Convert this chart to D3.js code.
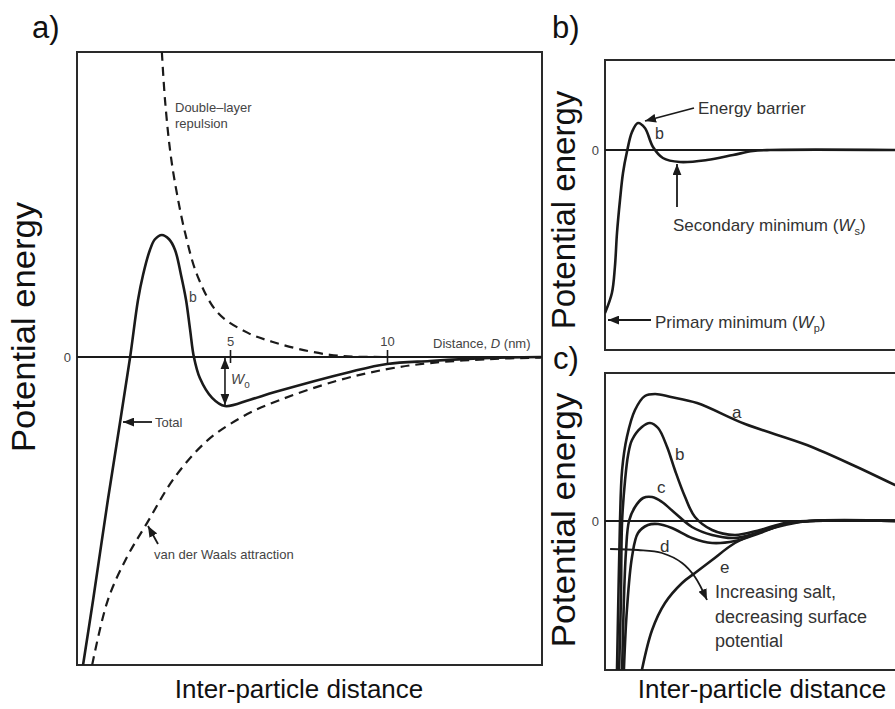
<!DOCTYPE html>
<html>
<head>
<meta charset="utf-8">
<script src="https://cdnjs.cloudflare.com/ajax/libs/d3/7.8.5/d3.min.js"></script>
<style>
body{margin:0;background:#fff;}
svg text{font-family:"Liberation Sans",Arial,Helvetica,sans-serif;}
</style>
</head>
<body>
<div id="chart"></div>
<script>
// panel a : distance D (nm) vs potential energy (arbitrary units)
var totalA = [[0.32,-10.1],[0.64,-7.97],[1.11,-4.69],[1.50,-2.13],[1.82,0],[2.07,1.87],[2.23,2.69],[2.45,3.51],
    [2.61,3.86],[2.83,4.0],[3.06,3.86],[3.25,3.51],[3.44,2.69],[3.60,1.87],[3.73,0.89],[3.85,0],[4.04,-0.69],
    [4.43,-1.34],[4.84,-1.61],[5.64,-1.4],[6.43,-1.15],[8.82,-0.49],[10.0,-0.23],[11.37,-0.13],[13.28,-0.03],[14.9,0]];
var repulsionA = [[2.83,10.0],[2.93,8.43],[3.09,6.79],[3.25,5.70],[3.57,4.07],[3.98,2.62],[4.62,1.44],[5.57,0.79],
    [6.34,0.5],[7.2,0.26],[8.18,0.07],[9.0,0.01],[10,0]];
var attractionA = [[0.61,-10.1],[1.11,-7.97],[1.72,-6.56],[2.36,-5.44],[3.25,-3.93],[4.30,-2.72],[5.38,-1.97],
    [6.34,-1.51],[8.41,-0.78],[10.0,-0.4],[11.37,-0.2],[13.28,-0.07],[14.9,-0.02]];
var ticksA = [5, 10];

// panel b : one curve with energy barrier, primary and secondary minimum
var curveB = [[0,-8.15],[0.23,-7.15],[0.33,-5.85],[0.4,-4.15],[0.5,-2.5],[0.6,-1.15],[0.73,-0.1],[0.9,0.9],
    [1.1,1.35],[1.33,1.1],[1.6,0.15],[1.93,-0.4],[2.5,-0.6],[3.4,-0.5],[4.27,-0.25],[4.93,-0.05],[5.5,0],[10,0]];

// panel c : curves a..e for increasing salt
var curveCa = [[0.4,-7.45],[0.45,-3.5],[0.5,0],[0.57,2.55],[0.73,4.2],[1.0,5.55],[1.33,6.25],[1.67,6.35],
    [2.2,6.2],[3.07,5.9],[4.67,4.85],[6.73,3.8],[8.4,2.7],[9.67,1.8],[10,1.6]];
var curveCb = [[0.47,-7.45],[0.53,-3.95],[0.57,0],[0.67,2.05],[0.77,3.3],[0.9,4.05],[1.23,4.7],[1.5,4.9],
    [1.77,4.65],[2.07,3.7],[2.33,2.55],[2.67,1.2],[3.0,0.2],[3.57,-0.45],[4.33,-0.7],[5.17,-0.45],[6.0,-0.1],[6.83,0],[10,0]];
var curveCc = [[0.57,-7.45],[0.63,-3.95],[0.7,-1.5],[0.8,0],[1.0,0.7],[1.27,1.15],[1.57,1.2],[1.9,0.95],
    [2.33,0.4],[2.9,-0.3],[3.57,-0.7],[4.33,-0.85],[5.17,-0.55],[6.0,-0.15],[6.83,0],[10,0]];
var curveCd = [[0.63,-7.45],[0.73,-4.45],[0.9,-1.8],[1.1,-0.6],[1.43,-0.2],[1.77,-0.15],[2.23,-0.35],
    [2.9,-0.85],[3.57,-1.1],[4.33,-1.0],[5.17,-0.6],[6.0,-0.15],[6.83,0],[10,0]];
var curveCe = [[1.23,-7.45],[1.57,-5.45],[2.0,-4.1],[2.57,-3.1],[3.0,-2.6],[3.57,-1.95],[4.33,-1.1],
    [5.17,-0.55],[6.0,-0.2],[6.83,0],[10,0]];
var namesC = ["a", "b", "c", "d", "e"];
var saltArrow = [[0.17,-1.4],[1.1,-1.45],[1.9,-1.6],[2.57,-2.1],[3.0,-2.8],[3.4,-3.95]];

var W = 895, H = 709;
var ink = "#1a1a1a", grey = "#444";

var svg = d3.select("#chart").append("svg")
    .attr("width", W)
    .attr("height", H)
    .style("background", "#fff");

var defs = svg.append("defs");
defs.append("marker")
    .attr("id", "arr")
    .attr("markerUnits", "userSpaceOnUse")
    .attr("viewBox", "0 0 10 8")
    .attr("markerWidth", 11).attr("markerHeight", 9)
    .attr("refX", 10).attr("refY", 4)
    .attr("orient", "auto-start-reverse")
    .append("path").attr("d", "M0,0 L10,4 L0,8 Z").attr("fill", ink);

function clip(id, x, y, w, h) {
    defs.append("clipPath").attr("id", id)
        .append("rect").attr("x", x).attr("y", y).attr("width", w).attr("height", h);
    return "url(#" + id + ")";
}

function frame(x, y, w, h) {
    svg.append("rect").attr("x", x).attr("y", y).attr("width", w).attr("height", h)
        .attr("fill", "none").attr("stroke", "#2a2a2a").attr("stroke-width", 2);
}

function zeroAxis(xs, ys, left, right) {
    svg.append("line").attr("x1", left).attr("x2", right)
        .attr("y1", ys(0)).attr("y2", ys(0))
        .attr("stroke", ink).attr("stroke-width", 1.8);
    var g = svg.append("g").attr("transform", "translate(" + left + ",0)")
        .call(d3.axisLeft(ys).tickValues([0]).tickSize(0).tickPadding(6));
    g.select(".domain").remove();
    g.selectAll("text").attr("font-size", 13).attr("fill", grey);
}

function arrow(x1, y1, x2, y2) {
    svg.append("line").attr("x1", x1).attr("y1", y1).attr("x2", x2).attr("y2", y2)
        .attr("stroke", ink).attr("stroke-width", 1.8).attr("marker-end", "url(#arr)");
}

function label(x, y, txt, size, col) {
    return svg.append("text").attr("x", x).attr("y", y)
        .attr("font-size", size).attr("fill", col || grey).text(txt);
}

function yTitle(x, y, size, len) {
    var t = svg.append("text")
        .attr("transform", "translate(" + x + "," + y + ") rotate(-90)")
        .attr("text-anchor", "middle")
        .attr("font-size", size)
        .attr("fill", "#111")
        .text("Potential energy");
    if (len) t.attr("textLength", len).attr("lengthAdjust", "spacingAndGlyphs");
}

function smooth(xs, ys) {
    return d3.line().x(function(d){ return xs(d[0]); }).y(function(d){ return ys(d[1]); })
        .curve(d3.curveCatmullRom.alpha(0.5));
}

// ---------- panel a ----------
var xA = d3.scaleLinear().domain([0, 15]).range([73, 544]);
var yA = d3.scaleLinear().domain([-10.1, 10]).range([665, 52]);
var clipA = clip("clipA", 77, 52, 465, 613);
var lineA = smooth(xA, yA);

frame(77, 52, 465, 613);
zeroAxis(xA, yA, 77, 542);

var axA = svg.append("g").attr("transform", "translate(0," + yA(0) + ")")
    .call(d3.axisTop(xA).tickValues(ticksA).tickSize(7).tickPadding(4));
axA.select(".domain").remove();
axA.selectAll("line").attr("y1", 6).attr("stroke", ink).attr("stroke-width", 1.6);
axA.selectAll("text").attr("font-size", 13).attr("fill", grey);

svg.append("path").datum(repulsionA).attr("d", lineA).attr("clip-path", clipA)
    .attr("fill", "none").attr("stroke", ink).attr("stroke-width", 2.2).attr("stroke-dasharray", "9,6");
svg.append("path").datum(attractionA).attr("d", lineA).attr("clip-path", clipA)
    .attr("fill", "none").attr("stroke", ink).attr("stroke-width", 2.2).attr("stroke-dasharray", "9,6");
svg.append("path").datum(totalA).attr("d", lineA).attr("clip-path", clipA)
    .attr("fill", "none").attr("stroke", ink).attr("stroke-width", 2.6);

// W0 depth arrow at the secondary minimum of the total curve
var wMin = d3.least(totalA.filter(function(d){ return d[0] > 4; }), function(d){ return d[1]; });
svg.append("line").attr("x1", xA(wMin[0])).attr("x2", xA(wMin[0]))
    .attr("y1", yA(0) + 1).attr("y2", yA(wMin[1]) - 1)
    .attr("stroke", ink).attr("stroke-width", 1.6)
    .attr("marker-start", "url(#arr)").attr("marker-end", "url(#arr)");
var w0 = label(xA(wMin[0]) + 6, 384, "", 14, grey);
w0.append("tspan").attr("font-style", "italic").text("W");
w0.append("tspan").attr("font-size", 10).attr("dy", 4).text("o");

label(175, 112, "Double\u2013layer", 13);
label(175, 128, "repulsion", 13);
label(189, 302, "b", 14);
var dl = label(433, 348, "Distance, ", 13);
dl.append("tspan").attr("font-style", "italic").text("D");
dl.append("tspan").text(" (nm)");
label(155, 427, "Total", 13);
arrow(152, 422, 123, 422);
label(154, 559, "van der Waals attraction", 13);
arrow(158, 544, 148, 526);

// ---------- panel b ----------
var xB = d3.scaleLinear().domain([0, 10]).range([605, 905]);
var yB = d3.scaleLinear().domain([-10, 4.5]).range([350, 60]);
var clipB = clip("clipB", 605, 60, 300, 290);

frame(605, 60, 310, 290);
zeroAxis(xB, yB, 605, 905);
svg.append("path").datum(curveB).attr("d", smooth(xB, yB)).attr("clip-path", clipB)
    .attr("fill", "none").attr("stroke", ink).attr("stroke-width", 2.6);

label(698, 114, "Energy barrier", 17, "#333");
arrow(694, 108, 645, 121);
label(655, 139, "b", 16, "#333");
var sm = label(673, 231, "Secondary minimum (", 17, "#333");
sm.append("tspan").attr("font-style", "italic").text("W");
sm.append("tspan").attr("font-size", 11).attr("dy", 4).text("s");
sm.append("tspan").attr("dy", -4).text(")");
arrow(677, 207, 677, 164);
var pm = label(655, 328, "Primary minimum (", 17, "#333");
pm.append("tspan").attr("font-style", "italic").text("W");
pm.append("tspan").attr("font-size", 11).attr("dy", 4).text("p");
pm.append("tspan").attr("dy", -4).text(")");
arrow(651, 320, 608, 320);

// ---------- panel c ----------
var xC = d3.scaleLinear().domain([0, 10]).range([605, 905]);
var yC = d3.scaleLinear().domain([-7.45, 7.4]).range([670, 373]);
var clipC = clip("clipC", 605, 373, 300, 297);
var lineC = smooth(xC, yC);

frame(605, 373, 310, 297);
zeroAxis(xC, yC, 605, 905);

var seriesC = [curveCa, curveCb, curveCc, curveCd, curveCe];
svg.append("g").attr("clip-path", clipC)
    .selectAll("path").data(seriesC).enter().append("path")
    .attr("d", lineC)
    .attr("fill", "none").attr("stroke", ink).attr("stroke-width", 2.6);

var namePos = [[732, 418], [675, 460], [657, 493], [660, 552], [720, 573]];
svg.selectAll("text.cname").data(namesC).enter().append("text")
    .attr("class", "cname")
    .attr("x", function(d, i){ return namePos[i][0]; })
    .attr("y", function(d, i){ return namePos[i][1]; })
    .attr("font-size", 17).attr("fill", "#333")
    .text(function(d){ return d; });

svg.append("path").datum(saltArrow)
    .attr("d", smooth(xC, yC))
    .attr("fill", "none").attr("stroke", ink).attr("stroke-width", 1.8).attr("marker-end", "url(#arr)");
label(715, 598, "Increasing salt,", 18, "#333");
label(715, 623, "decreasing surface", 18, "#333");
label(715, 647, "potential", 18, "#333");

// ---------- titles ----------
label(32, 38, "a)", 31, "#111");
label(552, 38, "b)", 31, "#111");
label(553, 369, "c)", 31, "#111");
yTitle(35, 327, 34, 250);
yTitle(575, 210, 33);
yTitle(575, 520, 33, 255);
svg.append("text").attr("x", 299).attr("y", 698).attr("text-anchor", "middle")
    .attr("font-size", 26).attr("fill", "#111").text("Inter-particle distance");
svg.append("text").attr("x", 762).attr("y", 698).attr("text-anchor", "middle")
    .attr("font-size", 26).attr("fill", "#111").text("Inter-particle distance");
</script>
</body>
</html>
